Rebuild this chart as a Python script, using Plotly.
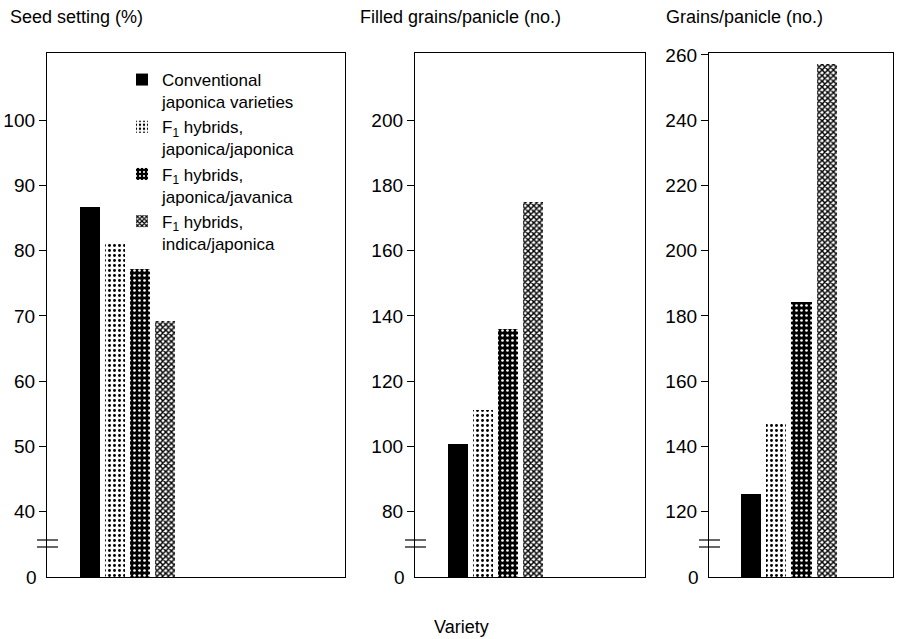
import plotly.graph_objects as go

W, H = 898, 639

varieties = [
    "Conventional<br>japonica varieties",
    "F<sub>1</sub> hybrids,<br>japonica/japonica",
    "F<sub>1</sub> hybrids,<br>japonica/javanica",
    "F<sub>1</sub> hybrids,<br>indica/japonica",
]
seed_setting = [86.7, 81.2, 77.2, 69.3]
filled_grains = [100.8, 111.3, 136.0, 174.9]
grains = [125.5, 146.8, 184.2, 257.3]

panel_titles = ["Seed setting (%)", "Filled grains/panicle (no.)", "Grains/panicle (no.)"]
tick_vals = [
    [40, 50, 60, 70, 80, 90, 100],
    [80, 100, 120, 140, 160, 180, 200],
    [120, 140, 160, 180, 200, 220, 240, 260],
]
y_ranges = [[30, 110.3], [60, 220.6], [100, 260.6]]
zero_pos = [30, 60, 100]

# pixel geometry
px_left = [47, 415, 709]
px_right = [345, 645, 893]
px_top, px_bottom = 53, 577
bar_first_center = [90, 458, 751]
bar_step = [25, 25, 25.3]

FONT = "Liberation Sans, Arial, sans-serif"

patterns = [
    dict(color="black", pattern=None),
    dict(color="white", pattern=dict(shape=".", fgcolor="black", bgcolor="white",
                                     fgopacity=1, size=5, solidity=0.27)),
    dict(color="black", pattern=dict(shape=".", fgcolor="white", bgcolor="black",
                                     fgopacity=1, size=5, solidity=0.22)),
    dict(color="white", pattern=dict(shape="x", fgcolor="black", bgcolor="white",
                                     fgopacity=1, size=4, solidity=0.6)),
]

fig = go.Figure()
datasets = [seed_setting, filled_grains, grains]
for p, vals in enumerate(datasets):
    xa = "x" if p == 0 else f"x{p+1}"
    ya = "y" if p == 0 else f"y{p+1}"
    base = zero_pos[p]
    for i, v in enumerate(vals):
        st = patterns[i]
        marker = dict(color=st["color"], line=dict(width=0))
        if st.get("pattern"):
            marker["pattern"] = st["pattern"]
        fig.add_trace(go.Bar(
            x=[i], y=[v - base], base=[base], width=0.8,
            marker=marker, name=varieties[i],
            showlegend=(p == 0), legendgroup=str(i),
            xaxis=xa, yaxis=ya,
        ))

ydom = [1 - px_bottom / H, 1 - px_top / H]
for p in range(3):
    sfx = "" if p == 0 else str(p + 1)
    dom = [px_left[p] / W, px_right[p] / W]
    left = -(bar_first_center[p] - px_left[p]) / bar_step[p]
    right = (px_right[p] - bar_first_center[p]) / bar_step[p]
    fig.layout["xaxis" + sfx] = dict(
        domain=dom, range=[left, right], showticklabels=False, ticks="",
        showgrid=False, zeroline=False, showline=True, linecolor="black",
        linewidth=1.3, mirror=True, anchor="y" + sfx, fixedrange=True,
        automargin=False,
    )
    fig.layout["yaxis" + sfx] = dict(
        domain=ydom, range=y_ranges[p], tickvals=tick_vals[p],
        ticks="outside", ticklen=7, tickwidth=1.2, tickcolor="black",
        showgrid=False, zeroline=False, showline=True, linecolor="black",
        linewidth=1.3, mirror=True, anchor="x" + sfx,
        tickfont=dict(size=19, color="black", family=FONT), fixedrange=True,
        automargin=False,
    )
    # "0" label at the broken-axis base
    fig.add_annotation(
        x=dom[0], xref="paper", y=zero_pos[p], yref="y" + sfx,
        text="0", showarrow=False, xanchor="right", yanchor="middle",
        xshift=-8, font=dict(size=19, color="black", family=FONT),
    )
    # axis break marks
    for yy in (540, 547):
        fig.add_shape(
            type="line", xref="paper", yref="paper",
            x0=(px_left[p] - 10) / W, x1=(px_left[p] + 11) / W,
            y0=1 - yy / H, y1=1 - yy / H,
            line=dict(color="black", width=1.2),
        )

title_x = [8, 358, 664]
for p in range(3):
    fig.add_annotation(
        x=title_x[p] / W, y=1 - 17 / H, xref="paper", yref="paper",
        text=panel_titles[p], showarrow=False, xanchor="left", yanchor="middle",
        font=dict(size=18, color="black", family=FONT),
    )

fig.add_annotation(
    x=461 / W, y=1 - 627 / H, xref="paper", yref="paper", text="Variety",
    showarrow=False, xanchor="center", yanchor="middle",
    font=dict(size=18, color="black", family=FONT),
)

fig.update_layout(
    width=W, height=H, margin=dict(l=0, r=0, t=0, b=0, autoexpand=False),
    paper_bgcolor="white", plot_bgcolor="white",
    barmode="overlay", bargap=0,
    font=dict(family=FONT, color="black"),
    legend=dict(
        x=122 / W, y=1 - 62 / H, xanchor="left", yanchor="top",
        bgcolor="rgba(0,0,0,0)", font=dict(size=17, color="black", family=FONT),
        tracegroupgap=6, itemwidth=30, traceorder="normal", valign="top",
    ),
)

fig.write_html("out.html")
